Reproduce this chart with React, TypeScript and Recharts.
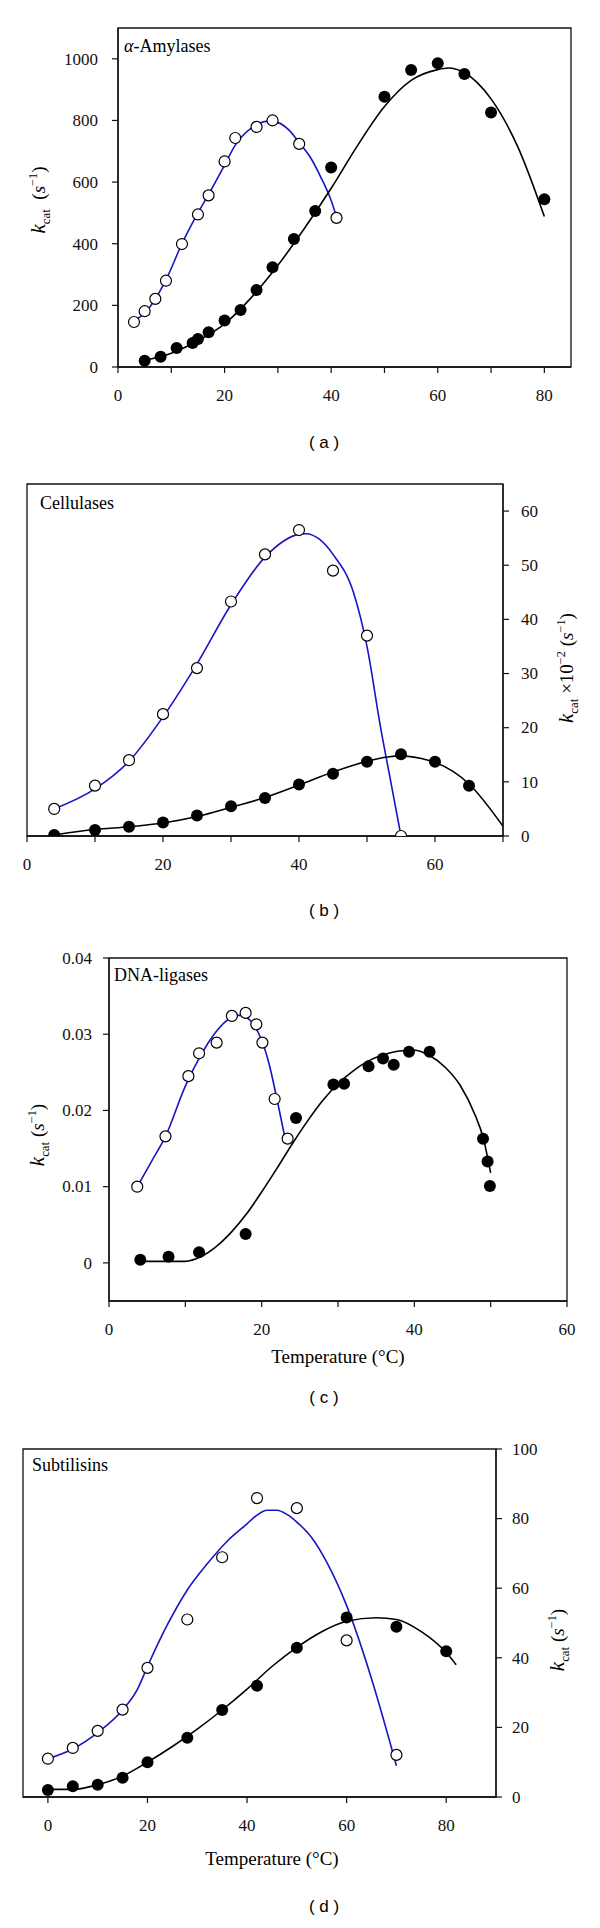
import { ComposedChart, XAxis, YAxis, Line, Scatter, ReferenceArea } from "recharts";
import type { ReactNode } from "react";

// ---- (a) alpha-amylases ----
const amyOpenT = [3, 5, 7, 9, 12, 15, 17, 20, 22, 26, 29, 34, 41];
const amyOpenK = [146, 181, 221, 280, 399, 495, 557, 667, 743, 779, 800, 724, 484];
const amyFilledT = [5, 8, 11, 14, 15, 17, 20, 23, 26, 29, 33, 37, 40, 50, 55, 60, 65, 70, 80];
const amyFilledK = [20, 33, 62, 78, 91, 113, 151, 185, 250, 324, 415, 506, 647, 877, 964, 986, 951, 826, 544];
const amyOpenFitT = [3, 5, 9, 12, 15, 17, 20, 22, 25, 28, 30, 32, 34, 36, 38, 40, 41];
const amyOpenFitK = [150, 175, 283, 400, 500, 560, 655, 720, 775, 797, 793, 770, 728, 683, 618, 540, 487];
const amyFilledFitT = [5, 10, 15, 20, 25, 30, 35, 40, 45, 50, 55, 60, 62, 65, 70, 75, 80];
const amyFilledFitK = [22, 45, 85, 140, 225, 330, 450, 580, 720, 845, 930, 965, 970, 955, 870, 715, 488];

// ---- (b) cellulases (x10^-2) ----
const celOpenT = [4, 10, 15, 20, 25, 30, 35, 40, 45, 50, 55];
const celOpenK = [5.0, 9.3, 14.0, 22.5, 31.0, 43.3, 52.0, 56.5, 49.0, 37.0, 0];
const celFilledT = [4, 10, 15, 20, 25, 30, 35, 40, 45, 50, 55, 60, 65];
const celFilledK = [0.2, 1.1, 1.7, 2.5, 3.8, 5.5, 7.0, 9.5, 11.5, 13.7, 15.1, 13.7, 9.3];
const celOpenFitT = [4, 10, 15, 20, 25, 30, 35, 40, 41, 43, 45, 48, 50, 52, 53.5, 55];
const celOpenFitK = [5, 8.7, 13.8, 22, 31.8, 42.7, 51.5, 55.7, 55.8, 54.8, 52, 45, 35, 20, 10, 0];
const celFilledFitT = [4, 10, 15, 20, 25, 30, 35, 40, 45, 50, 53, 55, 58, 60, 65, 70];
const celFilledFitK = [0.2, 1.2, 1.7, 2.4, 3.6, 5.3, 7.1, 9.4, 11.8, 13.8, 14.6, 14.8, 14.3, 13.6, 9.6, 1.8];

// ---- (c) DNA-ligases ----
const ligOpenT = [3.7, 7.4, 10.4, 11.8, 14.1, 16.1, 17.9, 19.3, 20.1, 21.7, 23.4];
const ligOpenK = [0.01, 0.0166, 0.0245, 0.0275, 0.0289, 0.0324, 0.0328, 0.0313, 0.0289, 0.0215, 0.0163];
const ligFilledT = [4.1, 7.8, 11.8, 17.9, 24.5, 29.4, 30.8, 34.0, 35.9, 37.3, 39.3, 42.0, 49.0, 49.6, 49.9];
const ligFilledK = [0.0004, 0.0008, 0.0014, 0.0038, 0.019, 0.0234, 0.0235, 0.0258, 0.0268, 0.026, 0.0277, 0.0277, 0.0163, 0.0133, 0.0101];
const ligOpenFitT = [3.7, 5.5, 7.4, 10, 12, 14, 16, 16.8, 18, 19, 20, 21, 22, 23.2];
const ligOpenFitK = [0.01, 0.0132, 0.0166, 0.0232, 0.0272, 0.0303, 0.0322, 0.0325, 0.0322, 0.0312, 0.0292, 0.026, 0.0215, 0.0157];
const ligFilledFitT = [4, 8, 10, 12, 14, 16, 18, 20, 22, 24, 26, 28, 30, 32, 34, 36, 38, 40, 42, 44, 46, 48, 49, 50];
const ligFilledFitK = [
  0.0002, 0.0002, 0.0002, 0.0008, 0.0021, 0.004, 0.0064, 0.0093, 0.0124, 0.0156, 0.0186, 0.0213,
  0.0235, 0.0252, 0.0265, 0.0273, 0.0278, 0.0279, 0.0272, 0.0257, 0.0233, 0.0193, 0.0165, 0.0118,
];

// ---- (d) subtilisins ----
const subOpenT = [0, 5, 10, 15, 20, 28, 35, 42, 50, 60, 70];
const subOpenK = [11.0, 14.1, 19.0, 25.1, 37.1, 51.0, 68.9, 85.9, 83.0, 45.0, 12.1];
const subFilledT = [0, 5, 10, 15, 20, 28, 35, 42, 50, 60, 70, 80];
const subFilledK = [2.0, 3.1, 3.5, 5.5, 10.0, 17.0, 25.0, 32.0, 42.9, 51.6, 48.9, 41.9];
const subOpenFitT = [0, 5, 10, 15, 18, 20, 24, 28, 32, 36, 40, 42, 44, 46, 48, 50, 53, 56, 60, 65, 70];
const subOpenFitK = [11, 13.8, 18.5, 25, 31, 37.5, 49.5, 59.5, 67, 73.5, 78.5, 81, 82.4, 82.4, 81.2, 79, 74.5, 67.5, 55, 34, 9];
const subFilledFitT = [0, 5, 10, 15, 20, 25, 30, 35, 40, 45, 50, 55, 60, 66, 70, 75, 80, 82];
const subFilledFitK = [2.2, 2.2, 3.5, 6, 10, 14.5, 19.5, 25, 31, 37.5, 43, 47.5, 50.5, 51.5, 51, 47.5, 41.5, 38];

// ticks
const amyXTicks = [0, 10, 20, 30, 40, 50, 60, 70, 80];
const amyYTicks = [0, 200, 400, 600, 800, 1000];
const celXTicks = [0, 10, 20, 30, 40, 50, 60, 70];
const celYTicks = [0, 10, 20, 30, 40, 50, 60];
const ligXTicks = [0, 10, 20, 30, 40, 50, 60];
const ligYTicks = [0, 0.01, 0.02, 0.03, 0.04];
const subXTicks = [0, 20, 40, 60, 80];
const subYTicks = [0, 20, 40, 60, 80, 100];

const SERIF = "'Liberation Serif', 'Times New Roman', serif";
const SANS = "'Liberation Sans', Arial, sans-serif";
const BLUE = "#1616c4";
const INK = "#111";

type Pt = { x: number; y: number };
const zip = (xs: number[], ys: number[]): Pt[] => xs.map((x, i) => ({ x, y: ys[i] }));

const OpenDot = (p: any) => (
  <circle cx={p.cx} cy={p.cy} r={5.5} fill="#fff" stroke="#000" strokeWidth={1.2} />
);
const FilledDot = (p: any) => <circle cx={p.cx} cy={p.cy} r={6} fill="#000" />;

// serif tick labels, drawn at the spot recharts hands over
const makeXTick = (step: number) => (t: any) => {
  const v = t.payload.value as number;
  if (v % step !== 0) return <g />;
  return (
    <text x={t.x} y={t.y} dy="0.71em" textAnchor="middle" fill={INK} fontSize={17} fontFamily={SERIF}>
      {v}
    </text>
  );
};
const makeYTick = (anchor: "start" | "end") => (t: any) => (
  <text x={t.x} y={t.y} dy="0.34em" textAnchor={anchor} fill={INK} fontSize={17} fontFamily={SERIF}>
    {t.payload.value}
  </text>
);

type PanelProps = {
  top: number;
  height: number;
  margin: { top: number; right: number; bottom: number; left: number };
  xDomain: [number, number];
  xTicks: number[];
  xLabelStep: number;
  yDomain: [number, number];
  yTicks: number[];
  yRight?: boolean;
  yWidth: number;
  yTickMargin: number;
  open: Pt[];
  filled: Pt[];
  openFit: Pt[];
  filledFit: Pt[];
};

function Panel(p: PanelProps) {
  return (
    <div style={{ position: "absolute", left: 0, top: p.top }}>
      <ComposedChart width={600} height={p.height} margin={p.margin}>
        <XAxis
          type="number"
          dataKey="x"
          domain={p.xDomain}
          ticks={p.xTicks}
          interval={0}
          allowDataOverflow
          height={40}
          tickSize={6}
          tickMargin={16}
          tick={makeXTick(p.xLabelStep)}
          axisLine={{ stroke: INK, strokeWidth: 1.3 }}
          tickLine={{ stroke: INK, strokeWidth: 1.2 }}
        />
        <YAxis
          type="number"
          dataKey="y"
          orientation={p.yRight ? "right" : "left"}
          domain={p.yDomain}
          ticks={p.yTicks}
          interval={0}
          allowDataOverflow
          width={p.yWidth}
          tickSize={6}
          tickMargin={p.yTickMargin}
          tick={makeYTick(p.yRight ? "start" : "end")}
          axisLine={{ stroke: INK, strokeWidth: 1.3 }}
          tickLine={{ stroke: INK, strokeWidth: 1.2 }}
        />
        <ReferenceArea
          x1={p.xDomain[0]}
          x2={p.xDomain[1]}
          y1={p.yDomain[0]}
          y2={p.yDomain[1]}
          fill="none"
          fillOpacity={0}
          stroke={INK}
          strokeWidth={1.3}
        />
        <Line data={p.openFit} dataKey="y" type="monotone" stroke={BLUE} strokeWidth={1.6} dot={false} activeDot={false} isAnimationActive={false} />
        <Line data={p.filledFit} dataKey="y" type="monotone" stroke="#000" strokeWidth={1.6} dot={false} activeDot={false} isAnimationActive={false} />
        <Scatter data={p.open} dataKey="y" shape={OpenDot} isAnimationActive={false} />
        <Scatter data={p.filled} dataKey="y" shape={FilledDot} isAnimationActive={false} />
      </ComposedChart>
    </div>
  );
}

function Txt({ x, y, children, size = 18, font = SERIF, rotate = false, center = false }: {
  x: number; y: number; children: ReactNode; size?: number; font?: string; rotate?: boolean; center?: boolean;
}) {
  const transform = rotate
    ? "translate(-50%, -50%) rotate(-90deg)"
    : center
    ? "translate(-50%, -50%)"
    : "translateY(-50%)";
  return (
    <div
      style={{
        position: "absolute",
        left: x,
        top: y,
        transform,
        whiteSpace: "nowrap",
        fontFamily: font,
        fontSize: size,
        lineHeight: 1,
        color: "#000",
      }}
    >
      {children}
    </div>
  );
}

const Kcat = () => (
  <>
    <i style={{ fontSize: "1.1em" }}>k</i>
    <sub style={{ fontSize: "0.68em" }}>cat</sub>
  </>
);
const PerSec = () => (
  <>
    (<i>s</i>
    <sup style={{ fontSize: "0.65em" }}>−1</sup>)
  </>
);

export default function App() {
  return (
    <div style={{ position: "absolute", left: 0, top: 0, width: 600, height: 1928, background: "#fff" }}>
      <Panel
        top={0}
        height={407}
        margin={{ top: 28, right: 29, left: 58, bottom: 0 }}
        xDomain={[0, 85]}
        xTicks={amyXTicks}
        xLabelStep={20}
        yDomain={[0, 1100]}
        yTicks={amyYTicks}
        yWidth={60}
        yTickMargin={14}
        open={zip(amyOpenT, amyOpenK)}
        filled={zip(amyFilledT, amyFilledK)}
        openFit={zip(amyOpenFitT, amyOpenFitK)}
        filledFit={zip(amyFilledFitT, amyFilledFitK)}
      />
      <Txt x={124} y={46}>
        <i>α</i>-Amylases
      </Txt>
      <Txt x={40} y={200} rotate size={19}>
        <Kcat />&nbsp;&nbsp;<PerSec />
      </Txt>
      <Txt x={324} y={442} center font={SANS} size={17}>( a )</Txt>

      <Panel
        top={450}
        height={426}
        margin={{ top: 34, right: 47, left: 27, bottom: 0 }}
        xDomain={[0, 70]}
        xTicks={celXTicks}
        xLabelStep={20}
        yDomain={[0, 65]}
        yTicks={celYTicks}
        yRight
        yWidth={50}
        yTickMargin={12}
        open={zip(celOpenT, celOpenK)}
        filled={zip(celFilledT, celFilledK)}
        openFit={zip(celOpenFitT, celOpenFitK)}
        filledFit={zip(celFilledFitT, celFilledFitK)}
      />
      <Txt x={40} y={503}>Cellulases</Txt>
      <Txt x={568} y={668} rotate size={19}>
        <Kcat /> ×10<sup style={{ fontSize: "0.65em" }}>−2</sup> <PerSec />
      </Txt>
      <Txt x={324} y={910} center font={SANS} size={17}>( b )</Txt>

      <Panel
        top={900}
        height={441}
        margin={{ top: 58, right: 33, left: 49, bottom: 0 }}
        xDomain={[0, 60]}
        xTicks={ligXTicks}
        xLabelStep={20}
        yDomain={[-0.005, 0.04]}
        yTicks={ligYTicks}
        yWidth={60}
        yTickMargin={11}
        open={zip(ligOpenT, ligOpenK)}
        filled={zip(ligFilledT, ligFilledK)}
        openFit={zip(ligOpenFitT, ligOpenFitK)}
        filledFit={zip(ligFilledFitT, ligFilledFitK)}
      />
      <Txt x={114} y={975}>DNA-ligases</Txt>
      <Txt x={39} y={1135} rotate size={19}>
        <Kcat />&nbsp;<PerSec />
      </Txt>
      <Txt x={338} y={1356} center size={19}>Temperature (°C)</Txt>
      <Txt x={324} y={1397} center font={SANS} size={17}>( c )</Txt>

      <Panel
        top={1420}
        height={417}
        margin={{ top: 29, right: 44, left: 23, bottom: 0 }}
        xDomain={[-5, 90]}
        xTicks={subXTicks}
        xLabelStep={20}
        yDomain={[0, 100]}
        yTicks={subYTicks}
        yRight
        yWidth={60}
        yTickMargin={10}
        open={zip(subOpenT, subOpenK)}
        filled={zip(subFilledT, subFilledK)}
        openFit={zip(subOpenFitT, subOpenFitK)}
        filledFit={zip(subFilledFitT, subFilledFitK)}
      />
      <Txt x={32} y={1465}>Subtilisins</Txt>
      <Txt x={559} y={1640} rotate size={19}>
        <Kcat />&nbsp;<PerSec />
      </Txt>
      <Txt x={272} y={1858} center size={19}>Temperature (°C)</Txt>
      <Txt x={324} y={1906} center font={SANS} size={17}>( d )</Txt>
    </div>
  );
}
